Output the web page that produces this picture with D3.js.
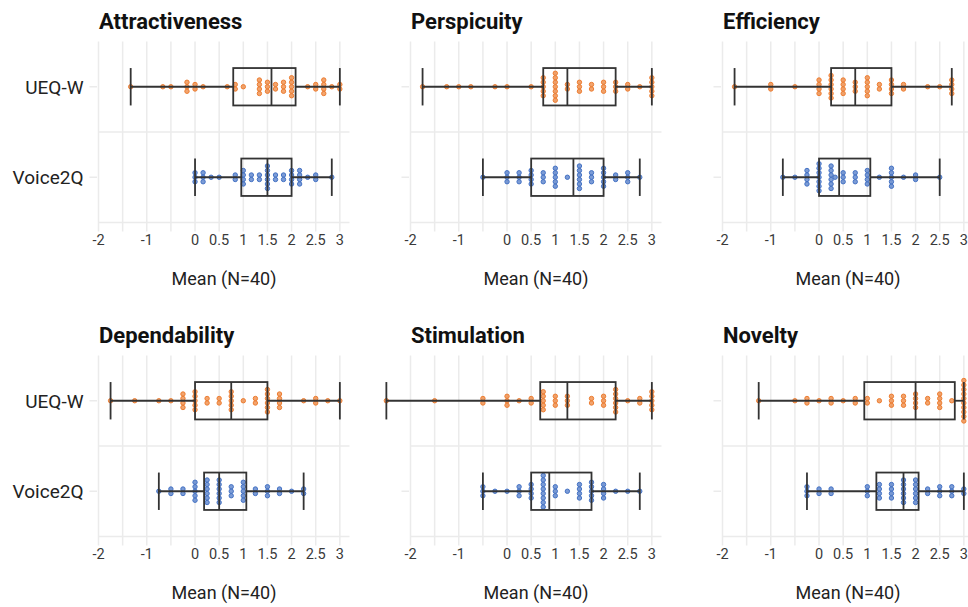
<!DOCTYPE html>
<html>
<head>
<meta charset="utf-8">
<script src="https://cdn.jsdelivr.net/npm/d3@7"></script>
<style>
  body { margin: 0; background: #fff; }
  text { font-family: Roboto, "Noto Sans", sans-serif; }
</style>
</head>
<body>
<script>
// Groups and UEQ scales
const categories = ['UEQ-W', 'Voice2Q'];
const scaleNames = ['Attractiveness', 'Perspicuity', 'Efficiency', 'Dependability', 'Stimulation', 'Novelty'];

// x axis ticks (every 0.5, some labels left empty)
const tickValues = [-2, -1.5, -1, -0.5, 0, 0.5, 1, 1.5, 2, 2.5, 3];
const tickLabels = ['-2', '', '-1', '', '0', '0.5', '1', '1.5', '2', '2.5', '3'];

// Per person means, as [value, count]
const attractivenessUEQ = [[-1.333,1],[-0.667,1],[-0.5,1],[-0.167,3],[0,2],[0.167,1],[0.667,1],[0.833,2],[1,1],[1.333,4],[1.5,3],[1.667,2],[1.833,3],[2,5],[2.333,1],[2.5,2],[2.667,4],[2.833,1],[3,2]];
const attractivenessV2Q = [[0,3],[0.167,3],[0.333,1],[0.5,1],[0.833,2],[1,4],[1.167,2],[1.333,2],[1.5,6],[1.667,2],[1.833,2],[2,4],[2.167,4],[2.333,1],[2.5,2],[2.833,1]];
const perspicuityUEQ = [[-1.75,1],[-1.25,1],[-1,1],[-0.75,1],[-0.25,1],[0,1],[0.5,1],[0.75,5],[1,7],[1.25,2],[1.5,3],[1.75,2],[2,3],[2.25,3],[2.5,2],[2.75,1],[3,5]];
const perspicuityV2Q = [[-0.5,1],[0,3],[0.25,3],[0.5,4],[0.75,3],[1,5],[1.25,1],[1.5,6],[1.75,3],[2,5],[2.25,2],[2.5,3],[2.75,1]];
const efficiencyUEQ = [[-1.75,1],[-1,2],[-0.5,1],[0,4],[0.25,6],[0.5,4],[0.75,3],[1,5],[1.25,2],[1.5,4],[1.75,2],[2.25,1],[2.5,1],[2.75,4]];
const efficiencyV2Q = [[-0.75,1],[-0.5,1],[-0.25,4],[0,7],[0.25,6],[0.333,1],[0.5,3],[0.75,3],[1,4],[1.25,1],[1.5,5],[1.75,1],[2,2],[2.5,1]];
const dependabilityUEQ = [[-1.75,1],[-1.25,1],[-0.75,1],[-0.5,1],[-0.25,4],[0,5],[0.25,2],[0.5,2],[0.75,5],[1,1],[1.25,2],[1.5,6],[1.75,4],[2.25,1],[2.5,2],[2.75,1],[3,1]];
const dependabilityV2Q = [[-0.75,1],[-0.5,2],[-0.25,2],[0,5],[0.25,6],[0.5,6],[0.75,3],[1,5],[1.25,2],[1.5,3],[1.75,2],[2,1],[2.25,2]];
const stimulationUEQ = [[-2.5,1],[-1.5,1],[-0.5,2],[0,3],[0.25,1],[0.5,2],[0.75,5],[1,3],[1.25,3],[1.75,2],[2,3],[2.25,6],[2.5,1],[2.75,2],[3,5]];
const stimulationV2Q = [[-0.5,3],[-0.25,1],[0,1],[0.25,3],[0.5,4],[0.75,8],[1,3],[1.25,1],[1.5,4],[1.75,5],[2,4],[2.25,1],[2.5,1],[2.75,1]];
const noveltyUEQ = [[-1.25,1],[-0.5,1],[-0.25,2],[0,1],[0.25,2],[0.5,1],[0.75,2],[1,2],[1.25,1],[1.5,3],[1.75,3],[2,4],[2.25,2],[2.5,4],[2.75,1],[3,10]];
const noveltyV2Q = [[-0.25,3],[0,2],[0.25,2],[1,3],[1.25,4],[1.5,4],[1.75,6],[2,6],[2.25,2],[2.5,3],[2.75,3],[3,2]];

const panelData = [
  [attractivenessUEQ, attractivenessV2Q],
  [perspicuityUEQ, perspicuityV2Q],
  [efficiencyUEQ, efficiencyV2Q],
  [dependabilityUEQ, dependabilityV2Q],
  [stimulationUEQ, stimulationV2Q],
  [noveltyUEQ, noveltyV2Q]
];
const colors = ['#ED7D31', '#4472C4'];

const width = 968, height = 607;
const svg = d3.select('body').append('svg')
  .attr('width', width)
  .attr('height', height);

const panelW = 251, panelH = 181;
const dotR = 2.2, dotStep = 4.5, boxHalf = 18.7;
const gridColor = '#ebebeb', lineColor = '#333';

scaleNames.forEach(function(name, i) {
  const col = i % 3, row = Math.floor(i / 3);
  const left = 98.5 + col * 312;
  const top = 41.5 + row * 314;

  const x = d3.scaleLinear().domain([-2, 3.2]).range([left, left + panelW]);
  const y = d3.scalePoint().domain(categories).range([top, top + panelH]).padding(0.5);

  const g = svg.append('g');

  // vertical grid lines and ticks
  g.selectAll('line.vgrid')
    .data(tickValues)
    .enter()
    .append('line')
    .attr('x1', function(d) { return x(d); })
    .attr('x2', function(d) { return x(d); })
    .attr('y1', top)
    .attr('y2', top + panelH + 9)
    .style('stroke', gridColor)
    .style('stroke-width', 1.5);

  // horizontal lines between groups and at the bottom
  g.selectAll('line.hgrid')
    .data([top + panelH / 2, top + panelH])
    .enter()
    .append('line')
    .attr('x1', left)
    .attr('x2', left + panelW)
    .attr('y1', function(d) { return d; })
    .attr('y2', function(d) { return d; })
    .style('stroke', gridColor)
    .style('stroke-width', 1.5);

  // y ticks
  g.selectAll('line.ytick')
    .data(categories)
    .enter()
    .append('line')
    .attr('x1', left - 9)
    .attr('x2', left - 1.5)
    .attr('y1', function(d) { return y(d); })
    .attr('y2', function(d) { return y(d); })
    .style('stroke', gridColor)
    .style('stroke-width', 1.5);

  // x tick labels
  g.selectAll('text.xlab')
    .data(tickValues)
    .enter()
    .append('text')
    .attr('x', function(d) { return x(d); })
    .attr('y', top + panelH + 22.5)
    .attr('text-anchor', 'middle')
    .style('font-size', '14.5px')
    .style('fill', '#3a3a3a')
    .text(function(d, j) { return tickLabels[j]; });

  // axis title
  g.append('text')
    .attr('x', left + panelW / 2)
    .attr('y', top + panelH + 62.5)
    .attr('text-anchor', 'middle')
    .style('font-size', '18px')
    .style('fill', '#222')
    .text('Mean (N=40)');

  // panel title
  g.append('text')
    .attr('x', left + 0.5)
    .attr('y', top - 12.3)
    .style('font-size', '22px')
    .style('font-weight', 'bold')
    .style('fill', '#111')
    .text(name);

  // group labels on the left column only
  if (col === 0) {
    g.selectAll('text.ylab')
      .data(categories)
      .enter()
      .append('text')
      .attr('x', left - 15)
      .attr('y', function(d) { return y(d); })
      .attr('dy', '0.36em')
      .attr('text-anchor', 'end')
      .style('font-size', '19px')
      .style('fill', '#222')
      .text(function(d) { return d; });
  }

  categories.forEach(function(cat, k) {
    const freq = panelData[i][k];
    const cy = y(cat);

    // dots stacked and centred on the group line
    const dots = [];
    freq.forEach(function(f) {
      for (let j = 0; j < f[1]; j++) {
        dots.push({ v: f[0], off: (j - (f[1] - 1) / 2) * dotStep });
      }
    });
    g.selectAll('circle.g' + k)
      .data(dots)
      .enter()
      .append('circle')
      .attr('cx', function(d) { return x(d.v); })
      .attr('cy', function(d) { return cy + d.off; })
      .attr('r', dotR)
      .style('fill', colors[k])
      .style('fill-opacity', 0.7)
      .style('stroke', colors[k])
      .style('stroke-width', 1);

    // box plot statistics from the values
    const values = [];
    freq.forEach(function(f) { for (let j = 0; j < f[1]; j++) values.push(f[0]); });
    values.sort(d3.ascending);
    const q1 = d3.quantileSorted(values, 0.25);
    const med = d3.quantileSorted(values, 0.5);
    const q3 = d3.quantileSorted(values, 0.75);
    const lo = values[0], hi = values[values.length - 1];

    // whiskers
    g.selectAll('line.w' + k)
      .data([[lo, q1], [q3, hi]])
      .enter()
      .append('line')
      .attr('x1', function(d) { return x(d[0]); })
      .attr('x2', function(d) { return x(d[1]); })
      .attr('y1', cy)
      .attr('y2', cy)
      .style('stroke', lineColor)
      .style('stroke-width', 1.8);

    // whisker caps and median
    g.selectAll('line.c' + k)
      .data([lo, hi, med])
      .enter()
      .append('line')
      .attr('x1', function(d) { return x(d); })
      .attr('x2', function(d) { return x(d); })
      .attr('y1', cy - boxHalf)
      .attr('y2', cy + boxHalf)
      .style('stroke', lineColor)
      .style('stroke-width', 1.8);

    // box
    g.append('rect')
      .attr('x', x(q1))
      .attr('y', cy - boxHalf)
      .attr('width', x(q3) - x(q1))
      .attr('height', boxHalf * 2)
      .style('fill', 'none')
      .style('stroke', lineColor)
      .style('stroke-width', 1.8);
  });
});
</script>
</body>
</html>
